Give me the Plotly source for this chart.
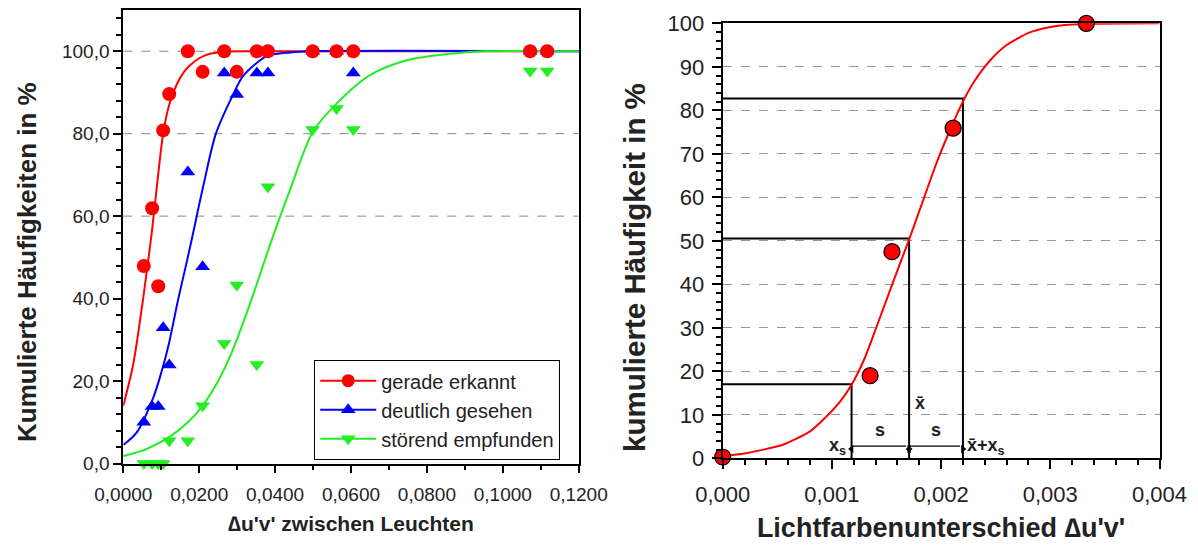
import plotly.graph_objects as go

# ---------------- left panel: measured points ----------------
delta_uv = [0.0054, 0.0076, 0.0092, 0.0105, 0.0121, 0.0170, 0.0209, 0.0266,
            0.0299, 0.0352, 0.0381, 0.0499, 0.0562, 0.0606, 0.1072, 0.1117]
gerade_erkannt = [47.9, 61.9, 43.0, 80.8, 89.6, 100, 95.0, 100,
                  95.0, 100, 100, 100, 100, 100, 100, 100]
deutlich_gesehen = [10.0, 13.8, 13.8, 32.9, 23.9, 70.7, 47.7, 94.7,
                    89.5, 94.7, 94.7, 100, 100, 94.7, 100, 100]
stoerend_empfunden = [0, 0, 0, 0, 5.5, 5.5, 14.0, 29.1,
                      43.3, 24.0, 67.1, 81.0, 86.1, 81.0, 95.2, 95.2]

# fitted curves
fit_red_x = [0, 0.0026, 0.0053, 0.0075, 0.0090, 0.0105, 0.0121, 0.0141,
             0.0160, 0.0176, 0.0200, 0.0228, 0.0270, 0.0350, 0.1200]
fit_red_y = [14, 24, 40.5, 56, 68.5, 80, 87, 92, 95, 96.6, 98.3, 99.4, 99.9, 100, 100]

fit_blue_x = [0, 0.0035, 0.0079, 0.0100, 0.0120, 0.0145, 0.0165, 0.0180,
              0.0210, 0.0244, 0.0290, 0.0316, 0.0378, 0.0440, 0.0500, 0.1200]
fit_blue_y = [4.5, 7.5, 16, 22, 29, 40, 48, 54.2, 67, 80, 89.6, 94, 98.8, 99.7, 100, 100]

fit_green_x = [0, 0.0061, 0.0123, 0.0170, 0.0209, 0.0250, 0.0281, 0.0334,
               0.0391, 0.0439, 0.0499, 0.0562, 0.0650, 0.0747, 0.0861, 0.0950, 0.1200]
fit_green_y = [1.8, 3.5, 6.5, 10, 14, 20, 25.9, 38.8, 54.2, 66.3, 80.4, 87.3,
               94.2, 97.8, 99.4, 100, 100]

left_grid_levels = [60, 80, 100]

# ---------------- right panel ----------------
rp_x = [0.0, 0.00135, 0.00155, 0.00211, 0.00333]
rp_y = [0.3, 19.0, 47.5, 75.9, 100.0]
rfit_x = [0, 0.0002, 0.00055, 0.00080, 0.00095, 0.00108, 0.00118, 0.00130, 0.00141,
          0.00156, 0.00171, 0.00181, 0.00196, 0.00210, 0.0022, 0.00230, 0.00245,
          0.00260, 0.00280, 0.00299, 0.00320, 0.00340, 0.004]
rfit_y = [0.5, 1.1, 3.1, 6.2, 9.6, 13.2, 16.9, 23.0, 30.3, 40.5, 50.5, 57.5,
          68.0, 76.5, 82.0, 86.5, 91.5, 95.0, 97.8, 99.1, 99.7, 99.9, 100]

# construction lines: x_s, mean, mean + x_s
constr_x = [0.00118, 0.001707, 0.0022]
constr_y = [17.0, 50.5, 82.7]
arrow_y = 2.8

RED = "#ff0000"
BLUE = "#0000ff"
GREEN = "#22ee22"
FONT = "Arial, Liberation Sans, sans-serif"

# page body has an 8px margin: the figure is laid out in a 1190x538 box
W, H, OFF = 1190, 538, 8


def fx_(px):
    return (px - OFF) / W


def fy_(py):
    return 1 - (py - OFF) / H


fig = go.Figure()

# left panel curves
for cx_, cy_, col in [(fit_red_x, fit_red_y, RED), (fit_blue_x, fit_blue_y, BLUE),
                      (fit_green_x, fit_green_y, GREEN)]:
    fig.add_trace(go.Scatter(x=cx_, y=cy_, mode="lines",
                             line=dict(color=col, width=2, shape="spline", smoothing=0.8),
                             showlegend=False, xaxis="x", yaxis="y", hoverinfo="skip"))

# left panel points (green, blue, red order so red is on top)
fig.add_trace(go.Scatter(x=delta_uv, y=stoerend_empfunden, mode="markers",
                         marker=dict(symbol="triangle-down", size=13, color=GREEN),
                         showlegend=False, xaxis="x", yaxis="y", cliponaxis=False))
fig.add_trace(go.Scatter(x=delta_uv, y=deutlich_gesehen, mode="markers",
                         marker=dict(symbol="triangle-up", size=13, color=BLUE),
                         showlegend=False, xaxis="x", yaxis="y", cliponaxis=False))
fig.add_trace(go.Scatter(x=delta_uv, y=gerade_erkannt, mode="markers",
                         marker=dict(symbol="circle", size=14, color=RED),
                         showlegend=False, xaxis="x", yaxis="y", cliponaxis=False))

# legend entries
for name, col, sym in [("gerade erkannt", RED, "circle"),
                       ("deutlich gesehen", BLUE, "triangle-up"),
                       ("störend empfunden", GREEN, "triangle-down")]:
    fig.add_trace(go.Scatter(x=[None], y=[None], mode="lines+markers", name=name,
                             line=dict(color=col, width=2),
                             marker=dict(symbol=sym, size=13, color=col),
                             xaxis="x", yaxis="y"))

# right panel construction lines
for cx, cy in zip(constr_x, constr_y):
    fig.add_trace(go.Scatter(x=[0, cx, cx], y=[cy, cy, 0], mode="lines",
                             line=dict(color="black", width=2),
                             showlegend=False, xaxis="x2", yaxis="y2", hoverinfo="skip"))

# double arrows between the construction lines
for a0, a1 in [(constr_x[0], constr_x[1]), (constr_x[1], constr_x[2])]:
    fig.add_trace(go.Scatter(x=[a0, a1], y=[arrow_y, arrow_y], mode="lines+markers",
                             line=dict(color="black", width=1.2),
                             marker=dict(symbol=["triangle-left", "triangle-right"], size=7,
                                         color="black", standoff=3),
                             showlegend=False, xaxis="x2", yaxis="y2", hoverinfo="skip"))

# right panel curve + points
fig.add_trace(go.Scatter(x=rfit_x, y=rfit_y, mode="lines",
                         line=dict(color=RED, width=2, shape="spline", smoothing=0.6),
                         showlegend=False, xaxis="x2", yaxis="y2", hoverinfo="skip"))
fig.add_trace(go.Scatter(x=rp_x, y=rp_y, mode="markers",
                         marker=dict(symbol="circle", size=16, color=RED,
                                     line=dict(color="black", width=1.2)),
                         showlegend=False, xaxis="x2", yaxis="y2", cliponaxis=False))

# dashed grid lines in left panel
shapes = []
for lv in left_grid_levels:
    shapes.append(dict(type="line", xref="x", yref="y", x0=0, x1=0.12, y0=lv, y1=lv,
                       line=dict(color="#888888", width=1, dash="dash"), layer="below"))

lab_font = dict(family=FONT, size=18, color="#222")
annotations = [
    dict(x=constr_x[0], y=arrow_y, xref="x2", yref="y2", text="<b>x<sub>s</sub></b>",
         showarrow=False, xanchor="right", xshift=-4, font=lab_font),
    dict(x=(constr_x[0] + constr_x[1]) / 2, y=6.5, xref="x2", yref="y2", text="<b>s</b>",
         showarrow=False, font=lab_font),
    dict(x=(constr_x[1] + constr_x[2]) / 2, y=6.5, xref="x2", yref="y2", text="<b>s</b>",
         showarrow=False, font=lab_font),
    dict(x=constr_x[1], y=12.6, xref="x2", yref="y2", text="<b>x̄</b>",
         showarrow=False, xanchor="left", xshift=4, font=lab_font),
    dict(x=constr_x[2], y=arrow_y, xref="x2", yref="y2", text="<b>x̄+x<sub>s</sub></b>",
         showarrow=False, xanchor="left", xshift=2, font=lab_font),
    # y-axis titles
    dict(x=fx_(27), y=fy_(262), xref="paper", yref="paper", textangle=-90,
         text="<b>Kumulierte Häufigkeiten in %</b>", showarrow=False,
         xanchor="center", yanchor="middle", font=dict(family=FONT, size=26, color="#222")),
    dict(x=fx_(634), y=fy_(268), xref="paper", yref="paper", textangle=-90,
         text="<b>kumulierte Häufigkeit in %</b>", showarrow=False,
         xanchor="center", yanchor="middle", font=dict(family=FONT, size=29.5, color="#222")),
]

axis_common = dict(showline=True, linecolor="black", linewidth=2, mirror=True,
                   ticks="outside", tickcolor="black", tickwidth=1.5,
                   zeroline=False, automargin=False)

fig.update_layout(
    width=W, height=H,
    margin=dict(l=0, r=0, t=0, b=0),
    paper_bgcolor="white", plot_bgcolor="white",
    separators=",.",
    font=dict(family=FONT, color="#222"),
    xaxis=dict(domain=[fx_(123.3), fx_(578.7)], range=[0, 0.12], dtick=0.02, tick0=0,
               tickformat=".4f", ticklen=7, ticklabelstandoff=6,
               minor=dict(dtick=0.01, ticklen=4, ticks="outside", tickcolor="black"),
               tickfont=dict(size=19),
               title=dict(text="<b>∆u'v' zwischen Leuchten</b>", font=dict(size=21), standoff=12),
               anchor="y", showgrid=False, **axis_common),
    yaxis=dict(domain=[fy_(463.5), fy_(10)], range=[0, 110], tickvals=[0, 20, 40, 60, 80, 100],
               tickformat=".1f", ticklen=8,
               minor=dict(dtick=4, ticklen=5, ticks="outside", tickcolor="black"),
               tickfont=dict(size=19),
               anchor="x", showgrid=False, **axis_common),
    xaxis2=dict(domain=[fx_(722.7), fx_(1159.5)], range=[0, 0.004], dtick=0.001, tick0=0,
                tickformat=".3f", ticklen=9, ticklabelstandoff=6,
                minor=dict(dtick=0.0002, ticklen=5, ticks="outside", tickcolor="black"),
                tickfont=dict(size=22),
                title=dict(text="<b>Lichtfarbenunterschied ∆u'v'</b>", font=dict(size=27), standoff=12),
                anchor="y2", showgrid=False, **axis_common),
    yaxis2=dict(domain=[fy_(458.3), fy_(23.3)], range=[0, 100], dtick=10, tick0=0,
                tickformat="d", ticklen=9, ticklabelstandoff=3,
                minor=dict(dtick=2, ticklen=5, ticks="outside", tickcolor="black"),
                tickfont=dict(size=22),
                anchor="x2",
                showgrid=True, gridcolor="#999999", gridwidth=1, griddash="dash",
                **axis_common),
    legend=dict(x=fx_(314), y=fy_(360), xanchor="left", yanchor="top",
                bgcolor="white", bordercolor="black", borderwidth=1.2,
                font=dict(size=20, family=FONT, color="#222"), itemwidth=56,
                tracegroupgap=0),
    shapes=shapes,
    annotations=annotations,
)

fig.write_html("out.html")
